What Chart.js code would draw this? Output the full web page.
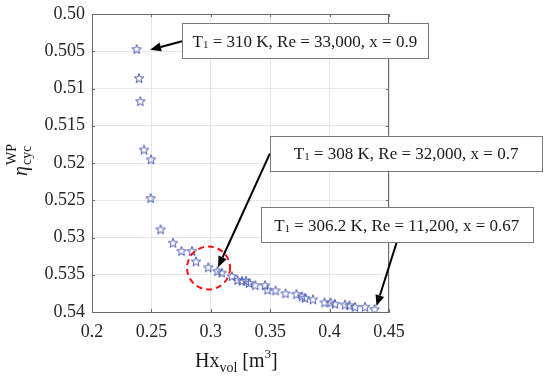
<!DOCTYPE html>
<html>
<head>
<meta charset="utf-8">
<script src="https://cdn.jsdelivr.net/npm/chart.js@4"></script>
<style>
  html, body { margin: 0; padding: 0; background: #fff; }
  #wrap { width: 550px; height: 379px; }
</style>
</head>
<body>
<div id="wrap"><canvas id="chart"></canvas></div>
<script>
// Hx_vol [m^3] against eta_cyc^WP, one marker per operating point
const xValues = [0.2376, 0.2396, 0.2407, 0.2438, 0.2497, 0.2494, 0.2577, 0.2682, 0.2753, 0.2842,
                 0.2875, 0.2979, 0.3056, 0.3092, 0.3178, 0.3225, 0.3263, 0.3296, 0.3322, 0.3375,
                 0.3456, 0.3477, 0.3545, 0.3629, 0.3720, 0.3768, 0.3793, 0.3860, 0.3957, 0.4008,
                 0.4045, 0.4130, 0.4167, 0.4214, 0.4298, 0.4378];
const yValues = [0.5047, 0.5086, 0.5117, 0.5182, 0.5195, 0.5247, 0.5289, 0.5307, 0.5318, 0.5318,
                 0.5332, 0.5340, 0.5345, 0.5347, 0.5352, 0.5357, 0.5358, 0.5358, 0.5361, 0.5364,
                 0.5364, 0.5370, 0.5371, 0.5375, 0.5376, 0.5379, 0.5381, 0.5383, 0.5387, 0.5387,
                 0.5389, 0.5390, 0.5391, 0.5393, 0.5393, 0.5396];

const xTicks = [0.2, 0.25, 0.3, 0.35, 0.4, 0.45];
const xTickLabels = ['0.2', '0.25', '0.3', '0.35', '0.4', '0.45'];
const yTicks = [0.5, 0.505, 0.51, 0.515, 0.52, 0.525, 0.53, 0.535, 0.54];
const yTickLabels = ['0.50', '0.505', '0.51', '0.515', '0.52', '0.525', '0.53', '0.535', '0.54'];

// callouts, in data coordinates
const callouts = [
    { text: ['T', '1', ' = 310 K, Re = 33,000, x = 0.9'], box: [0.2758, 0.50125, 0.4826, 0.5060],
      from: [0.2758, 0.50365], to: [0.2489, 0.5048] },
    { text: ['T', '1', ' = 308 K, Re = 32,000, x = 0.7'], box: [0.3498, 0.51634, 0.5790, 0.52103],
      from: [0.3498, 0.51870], to: [0.3061, 0.5340] },
    { text: ['T', '1', ' = 306.2 K, Re = 11,200, x = 0.67'], box: [0.3420, 0.52595, 0.5710, 0.53064],
      from: [0.4565, 0.53064], to: [0.4395, 0.5392] }
];
const ringCentre = [0.2981, 0.53409];

const SERIF = "'Liberation Serif', 'Times New Roman', serif";
const AXIS = '#6b6b6b';
Chart.defaults.font.family = SERIF;

function makeStar(size, color) {
    const c = document.createElement('canvas');
    c.width = size; c.height = size;
    const g = c.getContext('2d');
    const R = size / 2 - 1, r = R * 0.42, cx = size / 2, cy = size / 2 + 0.5;
    g.beginPath();
    for (let i = 0; i < 10; i++) {
        const a = -Math.PI / 2 + i * Math.PI / 5;
        const rad = i % 2 ? r : R;
        const px = cx + rad * Math.cos(a), py = cy + rad * Math.sin(a);
        i ? g.lineTo(px, py) : g.moveTo(px, py);
    }
    g.closePath();
    g.strokeStyle = color;
    g.lineWidth = 1;
    g.stroke();
    return c;
}

function arrow(ctx, x1, y1, x2, y2) {
    const ang = Math.atan2(y2 - y1, x2 - x1);
    const hl = 11, hw = 4.5;
    const bx = x2 - hl * Math.cos(ang), by = y2 - hl * Math.sin(ang);
    ctx.strokeStyle = '#000';
    ctx.fillStyle = '#000';
    ctx.lineWidth = 2;
    ctx.beginPath(); ctx.moveTo(x1, y1); ctx.lineTo(bx, by); ctx.stroke();
    ctx.beginPath();
    ctx.moveTo(x2, y2);
    ctx.lineTo(bx + hw * Math.sin(ang), by - hw * Math.cos(ang));
    ctx.lineTo(bx - hw * Math.sin(ang), by + hw * Math.cos(ang));
    ctx.closePath(); ctx.fill();
}

const decorations = {
    id: 'decorations',
    afterDraw(chart) {
        const { ctx, chartArea: a, scales: { x, y } } = chart;
        ctx.save();

        // top and right frame, inward ticks
        ctx.strokeStyle = AXIS;
        ctx.lineWidth = 1;
        ctx.beginPath();
        ctx.moveTo(a.left, a.top + 0.5); ctx.lineTo(a.right, a.top + 0.5);
        ctx.moveTo(a.right - 0.5, a.top); ctx.lineTo(a.right - 0.5, a.bottom);
        xTicks.forEach(v => {
            const px = Math.round(x.getPixelForValue(v)) + 0.5;
            ctx.moveTo(px, a.bottom); ctx.lineTo(px, a.bottom - 3);
            ctx.moveTo(px, a.top); ctx.lineTo(px, a.top + 3);
        });
        yTicks.forEach(v => {
            const py = Math.round(y.getPixelForValue(v)) + 0.5;
            ctx.moveTo(a.left, py); ctx.lineTo(a.left + 3, py);
            ctx.moveTo(a.right, py); ctx.lineTo(a.right - 3, py);
        });
        ctx.stroke();

        // dashed red ring
        ctx.strokeStyle = '#ff1010';
        ctx.lineWidth = 2;
        ctx.setLineDash([6, 4]);
        ctx.beginPath();
        ctx.arc(x.getPixelForValue(ringCentre[0]), y.getPixelForValue(ringCentre[1]), 21.5, 0, 2 * Math.PI);
        ctx.stroke();
        ctx.setLineDash([]);

        // callouts
        callouts.forEach(c => {
            arrow(ctx, x.getPixelForValue(c.from[0]), y.getPixelForValue(c.from[1]),
                  x.getPixelForValue(c.to[0]), y.getPixelForValue(c.to[1]));
            const l = x.getPixelForValue(c.box[0]), t = y.getPixelForValue(c.box[1]);
            const r = x.getPixelForValue(c.box[2]), b = y.getPixelForValue(c.box[3]);
            ctx.fillStyle = '#fff';
            ctx.fillRect(l, t, r - l, b - t);
            ctx.strokeStyle = '#7a7a7a';
            ctx.lineWidth = 1;
            ctx.strokeRect(Math.round(l) + 0.5, Math.round(t) + 0.5, Math.round(r - l), Math.round(b - t));
            const big = '17px ' + SERIF, small = '11px ' + SERIF;
            ctx.font = big; const w0 = ctx.measureText(c.text[0]).width;
            const w2 = ctx.measureText(c.text[2]).width;
            ctx.font = small; const w1 = ctx.measureText(c.text[1]).width;
            let px = (l + r) / 2 - (w0 + w1 + w2) / 2;
            const base = (t + b) / 2 + 6;
            ctx.fillStyle = '#1a1a1a';
            ctx.textAlign = 'left';
            ctx.textBaseline = 'alphabetic';
            ctx.font = big; ctx.fillText(c.text[0], px, base); px += w0;
            ctx.font = small; ctx.fillText(c.text[1], px, base + 1); px += w1;
            ctx.font = big; ctx.fillText(c.text[2], px, base);
        });

        // x axis title: Hx_vol [m^3]
        ctx.fillStyle = '#1a1a1a';
        let tx = 195;
        const xb = 367;
        const put = (s, f, dy) => { ctx.font = f; ctx.fillText(s, tx, xb + dy); tx += ctx.measureText(s).width; };
        put('Hx', '20px ' + SERIF, 0);
        put('vol', '14px ' + SERIF, 5);
        put(' [m', '20px ' + SERIF, 0);
        put('3', '13px ' + SERIF, -9);
        put(']', '20px ' + SERIF, 0);

        // y axis title: eta_cyc^WP
        ctx.translate(27, 176);
        ctx.rotate(-Math.PI / 2);
        ctx.font = 'italic 20px ' + SERIF;
        ctx.fillText('\u03b7', 0, 0);
        const ew = ctx.measureText('\u03b7').width + 1;
        ctx.font = '14px ' + SERIF;
        ctx.fillText('cyc', ew, 4);
        ctx.fillText('WP', ew, -11);
        ctx.restore();
    }
};

const tickFont = { family: SERIF, size: 18 };

new Chart(document.getElementById('chart'), {
    type: 'scatter',
    data: {
        datasets: [{
            data: xValues.map((v, i) => ({ x: v, y: yValues[i] })),
            pointStyle: makeStar(12, '#4a5cb4'),
            pointRadius: 6
        }]
    },
    options: {
        responsive: true,
        maintainAspectRatio: false,
        animation: false,
        layout: { padding: { left: 0, right: 161, top: 14, bottom: 0 } },
        plugins: { legend: { display: false }, tooltip: { enabled: false } },
        scales: {
            x: {
                type: 'linear', min: 0.2, max: 0.45,
                afterBuildTicks: s => { s.ticks = xTicks.map(v => ({ value: v })); },
                afterFit: s => { s.height = 67; s.paddingLeft = 0; s.paddingRight = 0; },
                ticks: { callback: (v, i) => xTickLabels[i], font: tickFont, color: '#262626',
                         padding: 9, maxRotation: 0, autoSkip: false },
                grid: { color: '#e6e6e6', drawTicks: false },
                border: { color: AXIS }
            },
            y: {
                type: 'linear', min: 0.5, max: 0.54, reverse: true,
                afterBuildTicks: s => { s.ticks = yTicks.map(v => ({ value: v })); },
                afterFit: s => { s.width = 92; s.paddingTop = 0; s.paddingBottom = 0; },
                ticks: { callback: (v, i) => yTickLabels[i], font: tickFont, color: '#262626',
                         padding: 7, autoSkip: false },
                grid: { color: '#e6e6e6', drawTicks: false },
                border: { color: AXIS }
            }
        }
    },
    plugins: [decorations]
});
</script>
</body>
</html>
